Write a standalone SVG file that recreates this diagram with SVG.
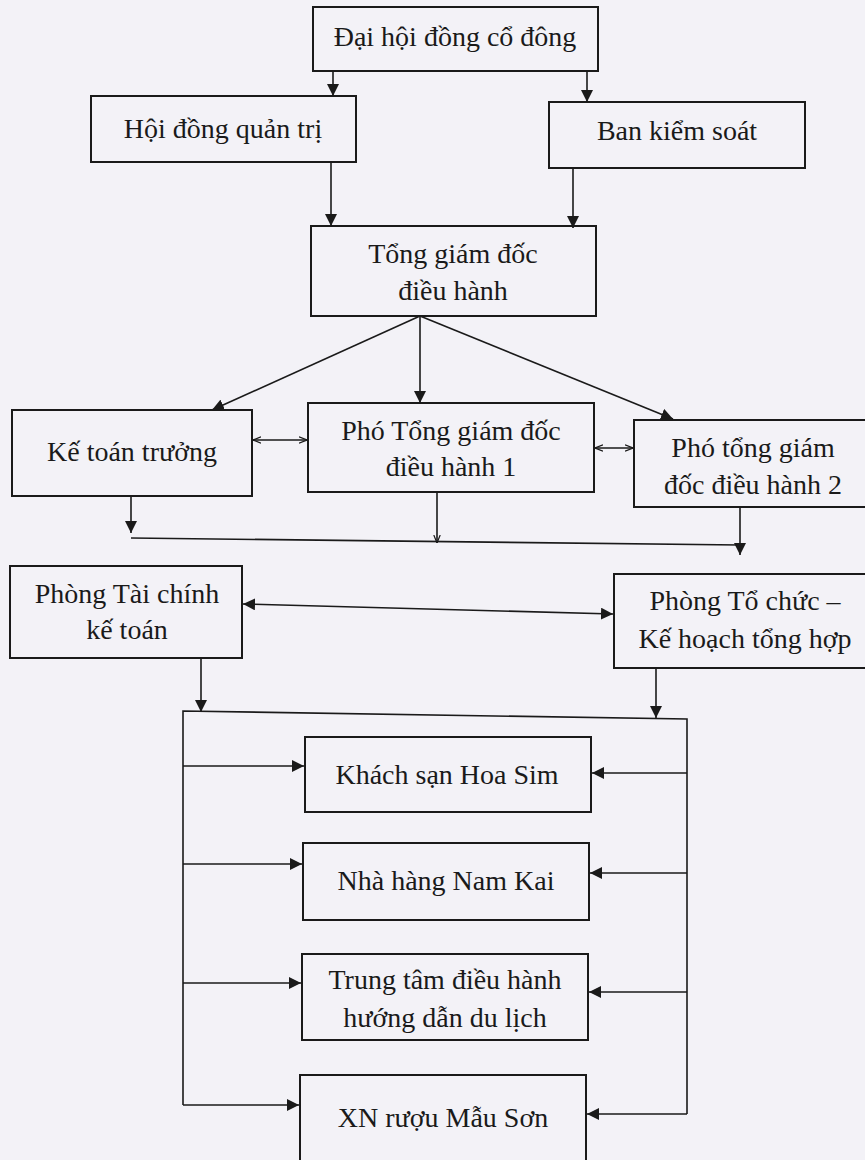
<svg xmlns="http://www.w3.org/2000/svg" width="865" height="1160" viewBox="0 0 865 1160">
<defs>
<marker id="ah" viewBox="0 0 10 10" refX="10" refY="5" markerWidth="12" markerHeight="12" markerUnits="userSpaceOnUse" orient="auto-start-reverse"><path d="M0,0 L10,5 L0,10 z" fill="#1a1a1a"/></marker>
<marker id="ahs" viewBox="0 0 10 10" refX="10" refY="5" markerWidth="8" markerHeight="8" markerUnits="userSpaceOnUse" orient="auto-start-reverse"><path d="M0,1 L10,5 L0,9" fill="none" stroke="#1a1a1a" stroke-width="1.5"/></marker>
</defs>
<style>
.box{fill:none;stroke:#1a1a1a;stroke-width:2}
.t{font-family:"Liberation Serif","Times New Roman",serif;font-size:28px;fill:#1a1a1a;text-anchor:middle}
.c{fill:none;stroke:#1a1a1a;stroke-width:1.6}
.a{marker-end:url(#ah)}
.d{marker-start:url(#ah);marker-end:url(#ah)}
.ds{marker-start:url(#ahs);marker-end:url(#ahs)}
</style>
<rect width="865" height="1160" fill="#f3f2f7"/>
<g id="n1"><rect class="box" x="313" y="7" width="285" height="64"/><text class="t" x="455" y="46">Đại hội đồng cổ đông</text></g>
<g id="n2"><rect class="box" x="91" y="96" width="265" height="66"/><text class="t" x="223" y="138">Hội đồng quản trị</text></g>
<g id="n3"><rect class="box" x="549" y="102" width="256" height="66"/><text class="t" x="677" y="140">Ban kiểm soát</text></g>
<g id="n4"><rect class="box" x="311" y="226" width="285" height="90"/><text class="t" x="453" y="263">Tổng giám đốc</text><text class="t" x="453" y="300">điều hành</text></g>
<g id="n5"><rect class="box" x="12" y="410" width="240" height="86"/><text class="t" x="132" y="461">Kế toán trưởng</text></g>
<g id="n6"><rect class="box" x="308" y="403" width="286" height="89"/><text class="t" x="451" y="440">Phó Tổng giám đốc</text><text class="t" x="451" y="476">điều hành 1</text></g>
<g id="n7"><rect class="box" x="634" y="420" width="240" height="87"/><text class="t" x="753" y="457">Phó tổng giám</text><text class="t" x="753" y="494">đốc điều hành 2</text></g>
<g id="n8"><rect class="box" x="10" y="566" width="232" height="92"/><text class="t" x="127" y="603">Phòng Tài chính</text><text class="t" x="127" y="639">kế toán</text></g>
<g id="n9"><rect class="box" x="614" y="574" width="260" height="94"/><text class="t" x="745" y="610">Phòng Tổ chức –</text><text class="t" x="745" y="648">Kế hoạch tổng hợp</text></g>
<g id="n10"><rect class="box" x="305" y="737" width="286" height="75"/><text class="t" x="447" y="784">Khách sạn Hoa Sim</text></g>
<g id="n11"><rect class="box" x="303" y="843" width="286" height="77"/><text class="t" x="446" y="890">Nhà hàng Nam Kai</text></g>
<g id="n12"><rect class="box" x="302" y="954" width="286" height="86"/><text class="t" x="445" y="989">Trung tâm điều hành</text><text class="t" x="445" y="1027">hướng dẫn du lịch</text></g>
<g id="n13"><rect class="box" x="300" y="1075" width="286" height="86"/><text class="t" x="443" y="1127">XN rượu Mẫu Sơn</text></g>
<g id="connectors">
<line class="c a" x1="333" y1="71" x2="333" y2="96"/>
<line class="c a" x1="587" y1="71" x2="587" y2="102"/>
<line class="c a" x1="331" y1="162" x2="331" y2="226"/>
<line class="c a" x1="573" y1="168" x2="573" y2="228"/>
<line class="c a" x1="420" y1="316" x2="212" y2="410"/>
<line class="c a" x1="420" y1="316" x2="420" y2="403"/>
<line class="c a" x1="420" y1="316" x2="673" y2="419"/>
<line class="c ds" x1="253" y1="440" x2="307" y2="440"/>
<line class="c ds" x1="595" y1="448" x2="633" y2="448"/>
<line class="c a" x1="131" y1="496" x2="131" y2="533"/>
<polyline class="c" points="131,538 740,545"/>
<line class="c" x1="437" y1="492" x2="437" y2="543" marker-end="url(#ahs)"/>
<line class="c a" x1="740" y1="507" x2="740" y2="555"/>
<line class="c d" x1="243" y1="604" x2="613" y2="614"/>
<line class="c a" x1="201" y1="658" x2="201" y2="712"/>
<line class="c a" x1="656" y1="668" x2="656" y2="718"/>
<polyline class="c" points="183,1105 183,711 687,719 687,1114"/>
<line class="c a" x1="183" y1="766" x2="304" y2="766"/>
<line class="c a" x1="183" y1="864" x2="302" y2="864"/>
<line class="c a" x1="183" y1="983" x2="301" y2="983"/>
<line class="c a" x1="183" y1="1105" x2="299" y2="1105"/>
<line class="c a" x1="687" y1="773" x2="592" y2="773"/>
<line class="c a" x1="687" y1="873" x2="590" y2="873"/>
<line class="c a" x1="687" y1="992" x2="589" y2="992"/>
<line class="c a" x1="687" y1="1114" x2="587" y2="1114"/>
</g>
</svg>
